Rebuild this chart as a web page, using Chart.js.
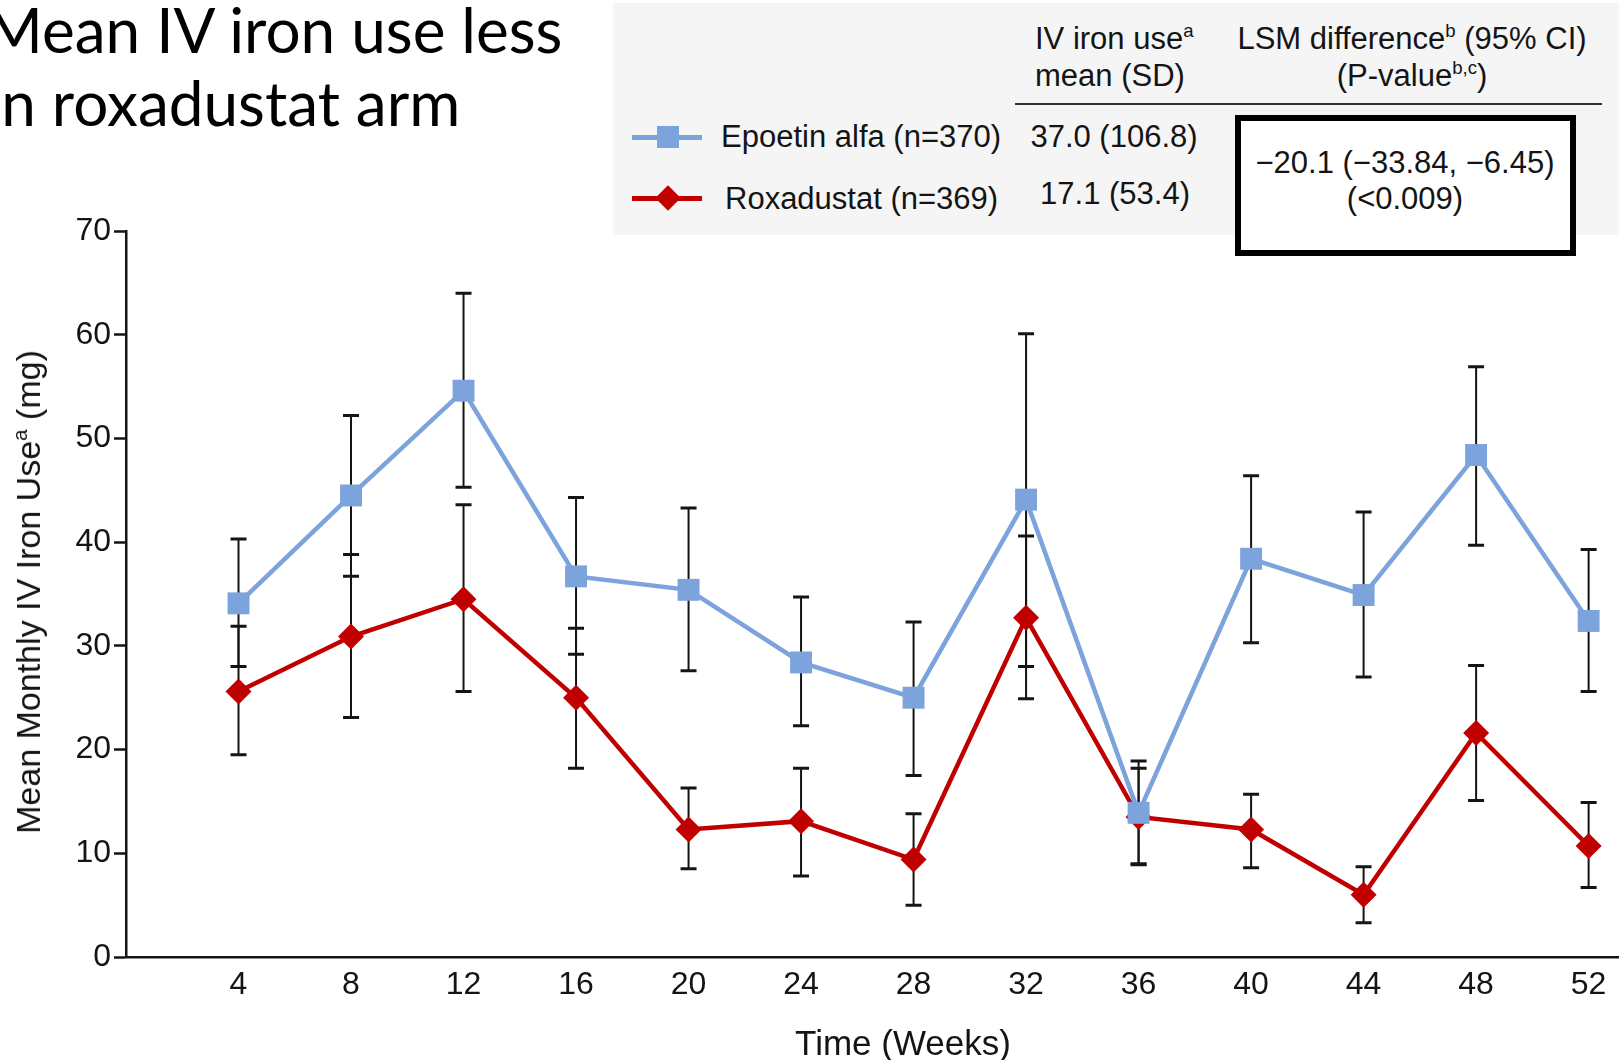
<!DOCTYPE html>
<html>
<head>
<meta charset="utf-8">
<script src="https://cdn.jsdelivr.net/npm/chart.js@4.4.1/dist/chart.umd.min.js"></script>
<style>
  html, body { margin:0; padding:0; background:#fff; overflow:hidden; }
  #wrap { position:relative; width:1619px; height:1060px; overflow:hidden; background:#fff;
          font-family:"Liberation Sans", Arial, Helvetica, sans-serif; color:#141414; }
  #chart { position:absolute; left:0; top:0; }
  .t { position:absolute; white-space:nowrap; font-size:31px; line-height:30px; }
  .t sup { font-size:60%; vertical-align:0.62em; line-height:0; }
  .title { position:absolute; white-space:nowrap; font-family:Lato, "Open Sans", sans-serif;
           font-size:62px; line-height:62px; color:#000; transform-origin:right center; }
  #graybox { position:absolute; left:613px; top:3px; width:1006px; height:232px; background:#f5f5f5; }
  #rule { position:absolute; left:1015px; top:103px; width:587px; height:2px; background:#333; }
  #lsmbox { position:absolute; left:1235px; top:115px; width:341px; height:141px; box-sizing:border-box;
            border:6px solid #000; background:#fff; }
  .legline { position:absolute; height:5px; }
  .legsq { position:absolute; width:22px; height:22px; }
  .legdia { position:absolute; width:18px; height:18px; transform:rotate(45deg); }
  .axtitle { position:absolute; white-space:nowrap; line-height:34px; color:#141414; }
  .axtitle sup { font-size:60%; vertical-align:0.62em; line-height:0; }
</style>
</head>
<body>
<div id="wrap">
  <canvas id="chart" width="1619" height="1060"></canvas>

  <div class="title" id="title1">Mean IV iron use less</div>
  <div class="title" id="title2">in roxadustat arm</div>

  <div id="graybox"></div>
  <div id="rule"></div>
  <div id="lsmbox"></div>

  <div class="t" style="left:1035px; top:24px;">IV iron use<sup>a</sup></div>
  <div class="t" style="left:1035px; top:61px;">mean (SD)</div>
  <div class="t" style="left:1412px; top:24px; transform:translateX(-50%);">LSM difference<sup>b</sup> (95% CI)</div>
  <div class="t" style="left:1412px; top:61px; transform:translateX(-50%);">(P-value<sup>b,c</sup>)</div>

  <div class="legline" style="left:632px; top:134.5px; width:70px; background:#7ca3db;"></div>
  <div class="legsq" style="left:657px; top:126px; background:#7ca3db;"></div>
  <div class="t" style="left:721px; top:122px;">Epoetin alfa (n=370)</div>
  <div class="t" style="left:1114px; top:122px; transform:translateX(-50%);">37.0 (106.8)</div>

  <div class="legline" style="left:632px; top:195.5px; width:70px; background:#c00000;"></div>
  <div class="legdia" style="left:659px; top:189px; background:#c00000;"></div>
  <div class="t" style="left:725px; top:184px;">Roxadustat (n=369)</div>
  <div class="t" style="left:1115px; top:179px; transform:translateX(-50%);">17.1 (53.4)</div>

  <div class="t" style="left:1405px; top:148px; transform:translateX(-50%);">−20.1 (−33.84, −6.45)</div>
  <div class="t" style="left:1405px; top:184px; transform:translateX(-50%);">(&lt;0.009)</div>

  <div class="axtitle" style="left:28px; top:592px; font-size:34px; transform:translate(-50%,-50%) rotate(-90deg);">Mean Monthly IV Iron Use<sup>a</sup> (mg)</div>
  <div class="axtitle" style="left:903px; top:1043px; font-size:35px; transform:translate(-50%,-50%);">Time (Weeks)</div>
</div>

<script>
// ---- data ----
const weeks = [4, 8, 12, 16, 20, 24, 28, 32, 36, 40, 44, 48, 52];
const yTickValues = [0, 10, 20, 30, 40, 50, 60, 70];

const epoetinMean  = [34.1, 44.5, 54.6, 36.7, 35.4, 28.4, 25.0, 44.1, 13.9, 38.4, 34.9, 48.4, 32.4];
const epoetinUpper = [40.3, 52.2, 64.0, 44.3, 43.3, 34.7, 32.3, 60.1, 18.9, 46.4, 42.9, 56.9, 39.3];
const epoetinLower = [28.0, 36.7, 45.3, 29.2, 27.6, 22.3, 17.5, 28.0,  8.9, 30.3, 27.0, 39.7, 25.6];

const roxMean  = [25.6, 30.9, 34.5, 25.0, 12.3, 13.1,  9.4, 32.7, 13.5, 12.3, 6.0, 21.6, 10.7];
const roxUpper = [31.9, 38.8, 43.6, 31.7, 16.3, 18.2, 13.8, 40.6, 18.2, 15.7, 8.7, 28.1, 14.9];
const roxLower = [19.5, 23.1, 25.6, 18.2,  8.5,  7.8,  5.0, 24.9,  9.0,  8.6, 3.3, 15.1,  6.7];

const seriesLabels = ['Epoetin alfa (n=370)', 'Roxadustat (n=369)'];

// ---- styles ----
const BLUE = '#7ca3db';
const RED = '#c00000';
const INK = '#141414';

Chart.defaults.font.family = '"Liberation Sans", Arial, sans-serif';
Chart.defaults.font.size = 32;

// ---- title fitting ----
(function fitTitle(){
  const c = document.createElement('canvas').getContext('2d');
  c.font = '62px Lato';
  const w = c.measureText('n roxadustat arm').width;
  const s = 459 / w;
  const t1 = document.getElementById('title1');
  const t2 = document.getElementById('title2');
  t1.style.right = (1619 - 562) + 'px';
  t1.style.top = '-2px';
  t1.style.transform = 'scaleX(' + s + ')';
  t2.style.right = (1619 - 460) + 'px';
  t2.style.top = '71px';
  t2.style.transform = 'scaleX(' + s + ')';
})();

// ---- error bars plugin (through the chart's scales) ----
const errorBarPlugin = {
  id: 'errorBars',
  beforeDatasetsDraw(chart) {
    const ctx = chart.ctx;
    const x = chart.scales.x, y = chart.scales.y;
    const sets = [[epoetinUpper, epoetinLower], [roxUpper, roxLower]];
    ctx.save();
    ctx.strokeStyle = INK;
    sets.forEach(([up, lo]) => {
      weeks.forEach((w, i) => {
        const px = x.getPixelForValue(w);
        const pu = y.getPixelForValue(up[i]);
        const pl = y.getPixelForValue(lo[i]);
        ctx.lineWidth = 2;
        ctx.beginPath(); ctx.moveTo(px, pu); ctx.lineTo(px, pl); ctx.stroke();
        ctx.lineWidth = 3;
        ctx.beginPath();
        ctx.moveTo(px - 8, pu); ctx.lineTo(px + 8, pu);
        ctx.moveTo(px - 8, pl); ctx.lineTo(px + 8, pl);
        ctx.stroke();
      });
    });
    ctx.restore();
  }
};

const tickFont = { family: '"Liberation Sans", Arial, sans-serif', size: 32 };

new Chart(document.getElementById('chart'), {
  type: 'line',
  data: {
    datasets: [
      {
        label: seriesLabels[0],
        data: weeks.map((w, i) => ({ x: w, y: epoetinMean[i] })),
        borderColor: BLUE, backgroundColor: BLUE,
        borderWidth: 4.5, tension: 0,
        pointStyle: 'rect', pointRadius: 15.5,
        pointBackgroundColor: BLUE, pointBorderColor: BLUE, pointBorderWidth: 0,
        clip: false
      },
      {
        label: seriesLabels[1],
        data: weeks.map((w, i) => ({ x: w, y: roxMean[i] })),
        borderColor: RED, backgroundColor: RED,
        borderWidth: 4.5, tension: 0,
        pointStyle: 'rectRot', pointRadius: 13,
        pointBackgroundColor: RED, pointBorderColor: RED, pointBorderWidth: 0,
        clip: false
      }
    ]
  },
  options: {
    responsive: false,
    animation: false,
    devicePixelRatio: 1,
    layout: { autoPadding: false, padding: { top: 231, left: 0, right: 0, bottom: 0 } },
    plugins: { legend: { display: false }, tooltip: { enabled: false }, title: { display: false } },
    scales: {
      x: {
        type: 'linear', min: 0, max: 53.08,
        afterBuildTicks: s => { s.ticks = weeks.map(v => ({ value: v })); },
        afterFit: s => { s.height = 103; s.paddingLeft = 0; s.paddingRight = 0; },
        grid: { display: false, drawTicks: false },
        border: { display: true, color: INK, width: 2.5 },
        ticks: { font: tickFont, color: INK, padding: 9, maxRotation: 0, autoSkip: false }
      },
      y: {
        type: 'linear', min: 0, max: 70,
        afterBuildTicks: s => { s.ticks = yTickValues.map(v => ({ value: v })); },
        afterFit: s => { s.width = 126; s.paddingTop = 0; s.paddingBottom = 0; },
        grid: { drawOnChartArea: false, drawTicks: true, tickLength: 12, tickWidth: 2.5, tickColor: INK },
        border: { display: true, color: INK, width: 2.5 },
        ticks: { font: tickFont, color: INK, padding: 3 }
      }
    }
  },
  plugins: [errorBarPlugin]
});
</script>
</body>
</html>
